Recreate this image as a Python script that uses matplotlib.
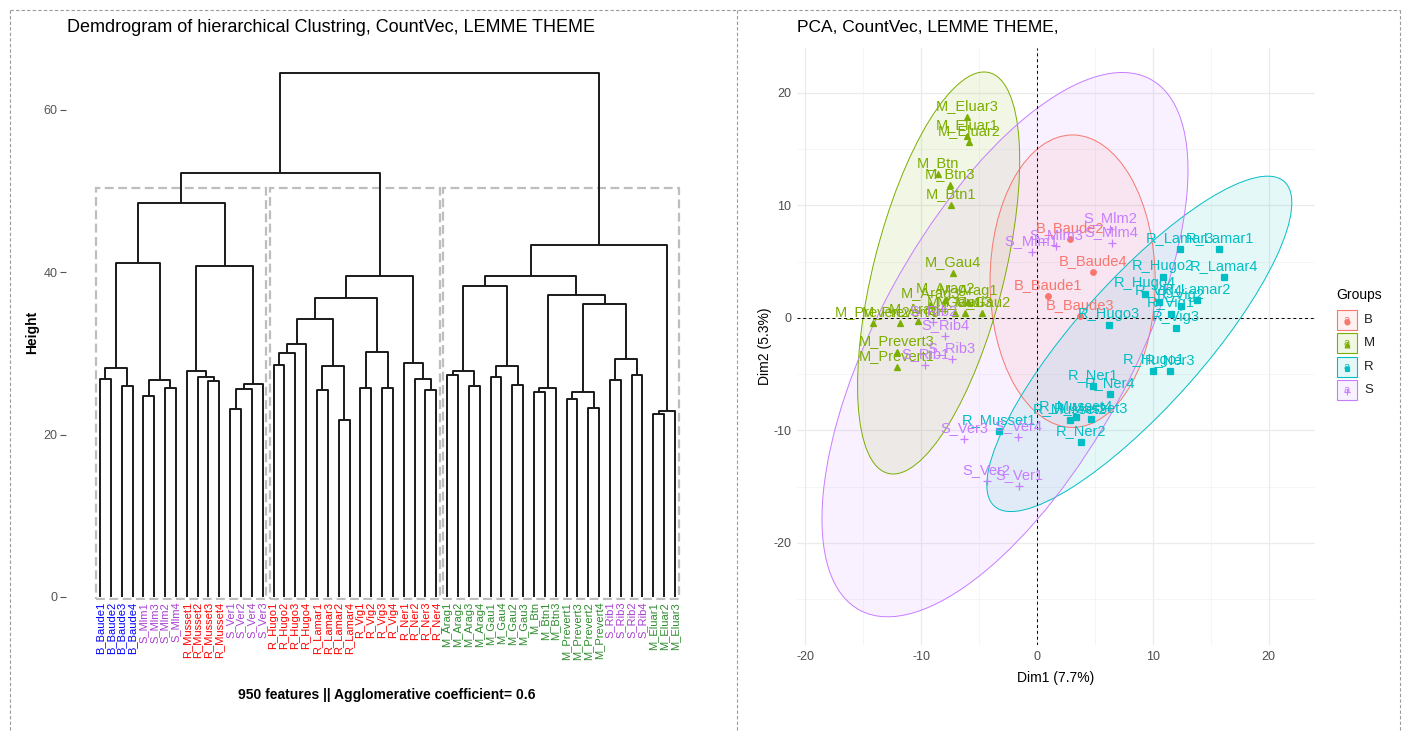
import numpy as np
import matplotlib.pyplot as plt
from matplotlib.patches import Ellipse, Rectangle
from matplotlib.lines import Line2D

plt.rcParams['font.family'] = ['Liberation Sans', 'DejaVu Sans']
plt.rcParams['axes.unicode_minus'] = False

# ===========================
#      Dendrogram data
# ===========================
leaves = ['B_Baude1', 'B_Baude2', 'B_Baude3', 'B_Baude4', 'S_Mlm1', 'S_Mlm3', 'S_Mlm2', 'S_Mlm4',
          'R_Musset1', 'R_Musset2', 'R_Musset3', 'R_Musset4', 'S_Ver1', 'S_Ver2', 'S_Ver4', 'S_Ver3',
          'R_Hugo1', 'R_Hugo2', 'R_Hugo3', 'R_Hugo4', 'R_Lamar1', 'R_Lamar3', 'R_Lamar2', 'R_Lamar4',
          'R_Vig1', 'R_Vig2', 'R_Vig3', 'R_Vig4', 'R_Ner1', 'R_Ner2', 'R_Ner3', 'R_Ner4',
          'M_Arag1', 'M_Arag2', 'M_Arag3', 'M_Arag4', 'M_Gau1', 'M_Gau4', 'M_Gau2', 'M_Gau3',
          'M_Btn', 'M_Btn1', 'M_Btn3', 'M_Prevert1', 'M_Prevert3', 'M_Prevert2', 'M_Prevert4',
          'S_Rib1', 'S_Rib3', 'S_Rib2', 'S_Rib4', 'M_Eluar1', 'M_Eluar2', 'M_Eluar3']

# (left, right, height) - an int refers to an earlier merge
merges = [
    ('B_Baude1', 'B_Baude2', 26.8), ('B_Baude3', 'B_Baude4', 26.0), (0, 1, 28.25),
    ('S_Mlm1', 'S_Mlm3', 24.8), ('S_Mlm2', 'S_Mlm4', 25.8), (3, 4, 26.7), (2, 5, 41.2),
    ('R_Musset3', 'R_Musset4', 26.6), ('R_Musset2', 7, 27.1), ('R_Musset1', 8, 27.8),
    ('S_Ver1', 'S_Ver2', 23.1), (10, 'S_Ver4', 25.6), (11, 'S_Ver3', 26.3), (9, 12, 40.8),
    (6, 13, 48.5),
    ('R_Hugo1', 'R_Hugo2', 28.6), (15, 'R_Hugo3', 30.1), (16, 'R_Hugo4', 31.2),
    ('R_Lamar1', 'R_Lamar3', 25.5), ('R_Lamar2', 'R_Lamar4', 21.8), (18, 19, 28.4), (17, 20, 34.3),
    ('R_Vig1', 'R_Vig2', 25.7), ('R_Vig3', 'R_Vig4', 25.7), (22, 23, 30.2), (21, 24, 36.8),
    ('R_Ner3', 'R_Ner4', 25.5), ('R_Ner2', 26, 26.8), ('R_Ner1', 27, 28.8), (25, 28, 39.6),
    (14, 29, 52.2),
    ('M_Arag1', 'M_Arag2', 27.4), ('M_Arag3', 'M_Arag4', 26.0), (31, 32, 27.8),
    ('M_Gau1', 'M_Gau4', 27.1), ('M_Gau2', 'M_Gau3', 26.1), (34, 35, 28.5), (33, 36, 38.3),
    ('M_Btn', 'M_Btn1', 25.3), (38, 'M_Btn3', 25.7),
    ('M_Prevert1', 'M_Prevert3', 24.4), ('M_Prevert2', 'M_Prevert4', 23.3), (40, 41, 25.3),
    ('S_Rib1', 'S_Rib3', 26.7), ('S_Rib2', 'S_Rib4', 27.3), (43, 44, 29.3), (42, 45, 36.1),
    (39, 46, 37.2), (37, 47, 39.5),
    ('M_Eluar1', 'M_Eluar2', 22.5), (49, 'M_Eluar3', 22.9), (48, 50, 43.4),
    (30, 51, 64.6),
]
cluster_sizes = [16, 16, 22]
leaf_colors = {'B': 'blue', 'S': '#A83FD0', 'R': 'red', 'M': '#2E8B2E'}

# ===========================
#      PCA data
# ===========================
groups = ['B', 'M', 'R', 'S']
group_colors = ['#F8766D', '#7CAE00', '#00BFC4', '#C77CFF']
group_markers = ['o', '^', 's', '+']

b_labels = ['B_Baude1', 'B_Baude2', 'B_Baude3', 'B_Baude4']
b_x = [0.98, 2.85, 3.71, 4.86]
b_y = [1.96, 7.0, 0.18, 4.09]

m_labels = ['M_Eluar3', 'M_Eluar1', 'M_Eluar2', 'M_Btn', 'M_Btn3', 'M_Btn1', 'M_Gau4',
            'M_Arag1', 'M_Arag2', 'M_Arag3', 'M_Arag4', 'M_Gau1', 'M_Gau3', 'M_Gau2',
            'M_Prevert2', 'M_Prevert4', 'M_Prevert3', 'M_Prevert1']
m_x = [-6.07, -6.07, -5.87, -8.52, -7.51, -7.45, -7.28,
       -5.96, -7.94, -9.24, -10.28, -7.08, -6.22, -4.72,
       -14.16, -11.83, -12.09, -12.09]
m_y = [17.84, 16.18, 15.67, 12.8, 11.82, 10.04, 4.03,
       1.42, 1.6, 1.16, -0.27, 0.44, 0.44, 0.47,
       -0.44, -0.44, -3.02, -4.33]

r_labels = ['R_Lamar1', 'R_Lamar3', 'R_Lamar4', 'R_Hugo2', 'R_Lamar2', 'R_Hugo4', 'R_Vig4',
            'R_Vig2', 'R_Vig1', 'R_Vig3', 'R_Hugo3', 'R_Hugo1', 'R_Ner3', 'R_Ner1', 'R_Ner4',
            'R_Ner2', 'R_Musset1', 'R_Musset2', 'R_Musset4', 'R_Musset3']
r_x = [15.75, 12.35, 16.15, 10.85, 13.79, 9.33, 10.54,
       12.41, 11.55, 12.0, 6.22, 10.04, 11.49, 4.81, 6.3,
       3.8, -3.28, 2.85, 3.37, 4.64]
r_y = [6.16, 6.16, 3.62, 3.62, 1.6, 2.1, 1.45,
       1.07, 0.36, -0.86, -0.62, -4.68, -4.74, -6.04, -6.78,
       -11.0, -10.04, -9.07, -8.83, -9.0]

s_labels = ['S_Mlm2', 'S_Mlm4', 'S_Mlm3', 'S_Mlm1', 'S_Rib2', 'S_Rib4', 'S_Rib3', 'S_Rib1',
            'S_Ver3', 'S_Ver4', 'S_Ver2', 'S_Ver1']
s_x = [6.3, 6.45, 1.64, -0.46, -8.95, -7.94, -7.37, -9.67, -6.3, -1.61, -4.34, -1.53]
s_y = [7.9, 6.64, 6.4, 5.84, -0.33, -1.6, -3.64, -4.18, -10.76, -10.6, -14.46, -14.93]

# confidence ellipses (B, M, R, S): centre, semi-axes, angle in degrees
ell_cx = [3.07, -8.5, 8.83, -2.77]
ell_cy = [3.27, 4.0, -2.3, -2.37]
ell_a = [13.0, 18.34, 19.1, 26.73]
ell_b = [7.13, 5.65, 5.56, 10.98]
ell_angle = [90, 76.3, 49.2, 62.2]

fig = plt.figure(figsize=(14.03, 7.31), dpi=100)
W, H = 1403, 731


def px_box(x0, y0, x1, y1):
    return [x0 / W, 1 - y1 / H, (x1 - x0) / W, (y1 - y0) / H]


# ===========================
#      Dendrogram
# ===========================
ax1 = fig.add_axes(px_box(66, 65, 709, 600))
pos = {name: i + 1 for i, name in enumerate(leaves)}
node_x, node_h = [], []


def child(c):
    if isinstance(c, str):
        return pos[c], 0.0
    return node_x[c], node_h[c]


for a, b, h in merges:
    xa, ha = child(a)
    xb, hb = child(b)
    ax1.plot([xa, xa, xb, xb], [ha, h, h, hb], color='#1a1a1a', lw=1.4, solid_capstyle='butt')
    node_x.append((xa + xb) / 2)
    node_h.append(h)

# rect.hclust k=3
heights = sorted(node_h, reverse=True)
rect_top = (heights[1] + heights[2]) / 2
start = 0
for size in cluster_sizes:
    ax1.add_patch(Rectangle((start + 0.66, -0.3), size - 0.33, rect_top + 0.3, fill=False,
                            edgecolor='#BEBEBE', lw=1.6, linestyle=(0, (4, 2))))
    start += size

for name in leaves:
    ax1.text(pos[name], -0.6, name, rotation=90, ha='center', va='top', fontsize=8,
             color=leaf_colors[name[0]])

ax1.set_xlim(-2.13, 57.13)
ax1.set_ylim(-0.37, 65.54)
ax1.set_yticks([0, 20, 40, 60])
ax1.set_xticks([])
for s in ax1.spines.values():
    s.set_visible(False)
ax1.tick_params(axis='y', length=4, width=0.8, colors='#555555', labelsize=9, pad=2)
ax1.set_ylabel('Height', fontsize=10, fontweight='bold', labelpad=3)
fig.text(387 / W, 1 - 695 / H, '950 features || Agglomerative coefficient= 0.6',
         ha='center', va='center', fontsize=10, fontweight='bold')
fig.text(67 / W, 1 - 28 / H, 'Demdrogram of hierarchical Clustring, CountVec, LEMME THEME',
         ha='left', va='center', fontsize=13)

# ===========================
#      PCA
# ===========================
ax2 = fig.add_axes(px_box(797, 48, 1315, 645))
ax2.set_xlim(-20.73, 24.0)
ax2.set_ylim(-29.07, 24.0)
for v in [-20, -10, 0, 10, 20]:
    ax2.axvline(v, color='#EBEBEB', lw=0.9, zorder=0)
    ax2.axhline(v, color='#EBEBEB', lw=0.9, zorder=0)
for v in [-15, -5, 5, 15]:
    ax2.axvline(v, color='#F2F2F2', lw=0.5, zorder=0)
for v in [-25, -15, -5, 5, 15]:
    ax2.axhline(v, color='#F2F2F2', lw=0.5, zorder=0)

for i, g in enumerate(groups):
    ax2.add_patch(Ellipse((ell_cx[i], ell_cy[i]), 2 * ell_a[i], 2 * ell_b[i], angle=ell_angle[i],
                          facecolor=group_colors[i], alpha=0.1, edgecolor='none', zorder=1))
    ax2.add_patch(Ellipse((ell_cx[i], ell_cy[i]), 2 * ell_a[i], 2 * ell_b[i], angle=ell_angle[i],
                          facecolor='none', edgecolor=group_colors[i], lw=0.7, zorder=2))

ax2.axhline(0, color='black', lw=0.7, linestyle=(0, (3, 3)), zorder=3)
ax2.axvline(0, color='black', lw=0.7, linestyle=(0, (3, 3)), zorder=3)

pca_sets = [(b_labels, b_x, b_y), (m_labels, m_x, m_y), (r_labels, r_x, r_y), (s_labels, s_x, s_y)]
for i, (labs, xs, ys) in enumerate(pca_sets):
    mk = group_markers[i]
    ax2.plot(xs, ys, linestyle='none', marker=mk, color=group_colors[i],
             markersize=6 if mk == '+' else 4, mew=0.9, zorder=4)
    for lab, x, y in zip(labs, xs, ys):
        ax2.annotate(lab, (x, y), xytext=(0, 8), textcoords='offset points', ha='center',
                     va='center', fontsize=10.5, color=group_colors[i], zorder=5)

ax2.set_xticks([-20, -10, 0, 10, 20])
ax2.set_yticks([-20, -10, 0, 10, 20])
ax2.tick_params(length=0, colors='#4D4D4D', labelsize=9, pad=4)
for s in ax2.spines.values():
    s.set_visible(False)
ax2.set_xlabel('Dim1 (7.7%)', fontsize=10, labelpad=6)
ax2.set_ylabel('Dim2 (5.3%)', fontsize=10, labelpad=1)
fig.text(797 / W, 1 - 28 / H, 'PCA, CountVec, LEMME THEME,', ha='left', va='center', fontsize=12.5)

# legend drawn by hand, ggplot style
leg = fig.add_axes(px_box(1330, 280, 1400, 410))
leg.set_xlim(1330, 1400)
leg.set_ylim(410, 280)
leg.axis('off')
leg.text(1336, 295, 'Groups', ha='left', va='center', fontsize=10)
for i, g in enumerate(groups):
    yc = 320 + i * 23.3
    leg.add_patch(Rectangle((1337, yc - 10), 20, 20, facecolor=group_colors[i], alpha=0.1,
                            edgecolor='none'))
    leg.add_patch(Rectangle((1337, yc - 10), 20, 20, facecolor='none', edgecolor=group_colors[i],
                            lw=0.8))
    leg.plot([1347], [yc + 2], marker=group_markers[i], color=group_colors[i],
             markersize=5 if group_markers[i] == '+' else 3.5, mew=0.8)
    leg.text(1347, yc, 'a', ha='center', va='center', fontsize=8, color=group_colors[i])
    leg.text(1364, yc, g, ha='left', va='center', fontsize=9.5, color='#222222')

# ===========================
#      Outer dashed frames
# ===========================
for xs_, ys_ in [([10, 1400], [10, 10]), ([10, 10], [10, 731]), ([737, 737], [10, 731]),
                 ([1400, 1400], [10, 731])]:
    fig.add_artist(Line2D([x / W for x in xs_], [1 - y / H for y in ys_], color='#9A9A9A',
                          lw=0.8, linestyle=(0, (3, 2))))

plt.savefig('out.png', dpi=100)
plt.close()
